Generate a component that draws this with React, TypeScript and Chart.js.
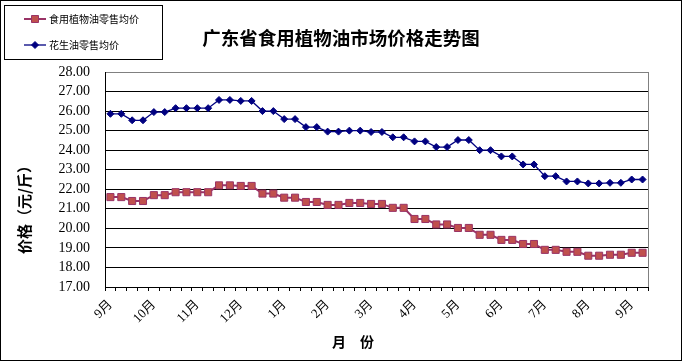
import React, { useEffect, useRef } from 'react';
import { Chart, registerables } from 'chart.js';

Chart.register(...registerables);

const chartTitle = '广东省食用植物油市场价格走势图';
const yAxisTitle = '价格（元/斤）';
const xAxisTitle = '月　份';
const monthLabels = ['9月', '10月', '11月', '12月', '1月', '2月', '3月', '4月', '5月', '6月', '7月', '8月', '9月'];
const pointsPerMonth = 4;
const pointCount = 50;
const seriesNames = ['食用植物油零售均价', '花生油零售均价'];
const edibleOil = [
  21.6, 21.6, 21.4, 21.4, 21.7, 21.7, 21.85, 21.85, 21.85, 21.85,
  22.2, 22.2, 22.17, 22.17, 21.78, 21.78, 21.57, 21.57, 21.35, 21.35,
  21.2, 21.2, 21.3, 21.3, 21.25, 21.25, 21.05, 21.05, 20.48, 20.48,
  20.2, 20.2, 20.02, 20.02, 19.67, 19.67, 19.41, 19.41, 19.2, 19.2,
  18.9, 18.9, 18.8, 18.8, 18.6, 18.6, 18.65, 18.65, 18.75, 18.75,
];
const peanutOil = [
  25.86, 25.86, 25.53, 25.53, 25.95, 25.95, 26.15, 26.15, 26.15, 26.15,
  26.57, 26.57, 26.52, 26.52, 26.0, 26.0, 25.59, 25.59, 25.18, 25.18,
  24.95, 24.95, 25.0, 25.0, 24.93, 24.93, 24.66, 24.66, 24.45, 24.45,
  24.16, 24.16, 24.52, 24.52, 24.0, 24.0, 23.68, 23.68, 23.27, 23.27,
  22.67, 22.67, 22.4, 22.4, 22.3, 22.3, 22.33, 22.33, 22.5, 22.5,
];
const yMin = 17;
const yMax = 28;
const yStep = 1;

const categories: string[] = Array.from({ length: pointCount }, (_, i) =>
  i % pointsPerMonth === 0 ? monthLabels[i / pointsPerMonth] ?? '' : ''
);

const CJK = '"Noto Sans CJK SC", sans-serif';
const SERIF = '"Liberation Serif", "Noto Sans CJK SC", serif';

const RED_LINE = '#993366';
const RED_FILL = '#C0504D';
const BLUE = '#000080';

function drawMarker(ctx: CanvasRenderingContext2D, style: string, x: number, y: number, fill: string, stroke: string) {
  ctx.beginPath();
  if (style === 'rect') {
    ctx.rect(x - 3.5, y - 3.5, 7, 7);
  } else {
    ctx.moveTo(x, y - 3.5);
    ctx.lineTo(x + 3.5, y);
    ctx.lineTo(x, y + 3.5);
    ctx.lineTo(x - 3.5, y);
    ctx.closePath();
  }
  ctx.fillStyle = fill;
  ctx.fill();
  ctx.strokeStyle = stroke;
  ctx.lineWidth = 1;
  ctx.stroke();
}

const decorPlugin = {
  id: 'decor',
  afterDraw(chart: any) {
    const ctx: CanvasRenderingContext2D = chart.ctx;
    const { right, top, bottom } = chart.chartArea;
    ctx.save();
    // plot area right border
    ctx.strokeStyle = '#808080';
    ctx.lineWidth = 1;
    ctx.beginPath();
    ctx.moveTo(Math.round(right) + 0.5, top);
    ctx.lineTo(Math.round(right) + 0.5, bottom);
    ctx.stroke();
    // outer frame
    ctx.strokeStyle = '#000';
    ctx.strokeRect(0.5, 0.5, chart.width - 1, chart.height - 1);

    // legend box
    ctx.strokeRect(4.5, 5.5, 158, 54);
    const items = chart.data.datasets;
    items.forEach((ds: any, i: number) => {
      const y = 19 + i * 26;
      ctx.strokeStyle = ds.borderColor;
      ctx.lineWidth = ds.borderWidth;
      ctx.beginPath();
      ctx.moveTo(24, y);
      ctx.lineTo(46, y);
      ctx.stroke();
      drawMarker(ctx, ds.pointStyle, 35, y, ds.pointBackgroundColor, ds.pointBorderColor);
      ctx.fillStyle = '#000';
      ctx.font = `10px ${CJK}`;
      ctx.textAlign = 'left';
      ctx.textBaseline = 'middle';
      ctx.fillText(ds.label, 49, y);
    });

    // y axis title
    ctx.save();
    ctx.translate(24, 206);
    ctx.rotate(-Math.PI / 2);
    ctx.font = `bold 15px ${CJK}`;
    ctx.textAlign = 'center';
    ctx.textBaseline = 'middle';
    ctx.fillStyle = '#000';
    ctx.fillText(yAxisTitle, 0, 0);
    ctx.restore();

    // x axis title
    ctx.font = `bold 14px ${CJK}`;
    ctx.textAlign = 'center';
    ctx.textBaseline = 'middle';
    ctx.fillStyle = '#000';
    ctx.fillText(xAxisTitle, 353, 342);
    ctx.restore();
  },
};

export default function App() {
  const ref = useRef<HTMLCanvasElement | null>(null);
  useEffect(() => {
    if (!ref.current) return;
    const chart = new Chart(ref.current, {
      type: 'line',
      data: {
        labels: categories,
        datasets: [
          {
            label: seriesNames[0],
            data: edibleOil,
            borderColor: RED_LINE,
            borderWidth: 2,
            pointStyle: 'rect',
            pointRadius: 5,
            pointBackgroundColor: RED_FILL,
            pointBorderColor: RED_LINE,
            pointBorderWidth: 1,
            tension: 0,
          },
          {
            label: seriesNames[1],
            data: peanutOil,
            borderColor: BLUE,
            borderWidth: 1.3,
            pointStyle: 'rectRot',
            pointRadius: 3.5,
            pointBackgroundColor: BLUE,
            pointBorderColor: BLUE,
            pointBorderWidth: 1,
            tension: 0,
          },
        ],
      },
      options: {
        animation: false,
        responsive: false,
        layout: { padding: { top: 0, right: 34, left: 34, bottom: 0 } },
        plugins: {
          legend: { display: false },
          tooltip: { enabled: false },
          title: {
            display: true,
            text: chartTitle,
            color: '#000',
            font: { family: CJK, size: 18.5, weight: 'bold', lineHeight: 1.2 },
            padding: { top: 27, bottom: 22.8 },
          },
        },
        scales: {
          x: {
            type: 'category',
            offset: true,
            grid: {
              display: true,
              drawOnChartArea: false,
              drawTicks: true,
              tickLength: 4,
              offset: true,
              color: '#000',
            },
            border: { display: true, color: '#000', width: 1 },
            ticks: {
              autoSkip: false,
              minRotation: 45,
              maxRotation: 45,
              padding: 6,
              color: '#000',
              font: { family: SERIF, size: 13 },
            },
            afterFit: (s: any) => {
              s.height = 74;
            },
          },
          y: {
            min: yMin,
            max: yMax,
            grid: {
              drawTicks: false,
              color: (c: any) => (c.tick && c.tick.value === yMax ? '#808080' : '#000'),
              lineWidth: 1,
            },
            border: { display: true, color: '#000', width: 1 },
            ticks: {
              stepSize: yStep,
              autoSkip: false,
              padding: 15,
              color: '#000',
              font: { family: SERIF, size: 14 },
              callback: (v: any) => Number(v).toFixed(2),
            },
            afterFit: (s: any) => {
              s.width = 71;
            },
          },
        },
      },
      plugins: [decorPlugin],
    } as any);
    return () => chart.destroy();
  }, []);
  return (
    <div style={{ position: 'absolute', left: 0, top: 0, width: 682, height: 361, background: '#fff' }}>
      <canvas ref={ref} width={682} height={361} />
    </div>
  );
}
